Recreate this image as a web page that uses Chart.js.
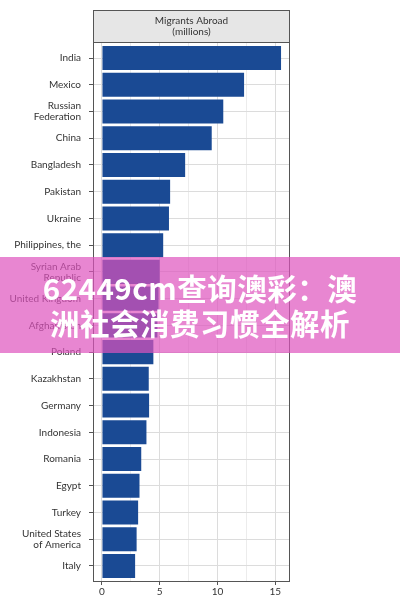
<!DOCTYPE html>
<html>
<head>
<meta charset="utf-8">
<script src="https://cdn.jsdelivr.net/npm/chart.js@4"></script>
<style>
  body { margin: 0; background: #fff; }
  #wrap { position: relative; width: 400px; height: 611px; }
  #banner {
    position: absolute; left: 0; top: 257px; width: 400px; height: 96px;
    background: rgba(222, 82, 190, 0.7);
    color: #fff; text-align: center;
    font-family: "Noto Sans CJK SC", sans-serif; font-weight: 700;
    font-size: 29.5px; line-height: 35px; padding-top: 13px; box-sizing: border-box;
    letter-spacing: 0.5px;
  }
</style>
</head>
<body>
<div id="wrap">
  <canvas id="chart" width="400" height="611"></canvas>
  <div id="banner">62449cm查询澳彩：澳<br>洲社会消费习惯全解析</div>
</div>
<script>
// Countries, top to bottom
const countries = [
  'India', 'Mexico', ['Russian', 'Federation'], 'China', 'Bangladesh',
  'Pakistan', 'Ukraine', 'Philippines, the', ['Syrian Arab', 'Republic'],
  'United Kingdom', 'Afghanistan', 'Poland', 'Kazakhstan', 'Germany',
  'Indonesia', 'Romania', 'Egypt', 'Turkey', ['United States', 'of America'], 'Italy'
];

// Migrants abroad, millions
const migrants = [15.5, 12.3, 10.5, 9.5, 7.2, 5.9, 5.8, 5.3, 5.0, 4.9,
                  4.8, 4.45, 4.05, 4.08, 3.85, 3.4, 3.25, 3.13, 3.0, 2.87];

const xTicks = [0, 2.5, 5, 7.5, 10, 12.5, 15];
const xLabelTicks = [0, 5, 10, 15];

const STRIP = 32;

// grey strip above the panel and the panel frame
const facetFrame = {
  id: 'facetFrame',
  beforeDraw(chart) {
    const { ctx, chartArea: a } = chart;
    ctx.save();
    ctx.fillStyle = '#e6e6e6';
    ctx.fillRect(a.left, a.top - STRIP, a.right - a.left, STRIP);
    ctx.restore();
  },
  afterDatasetsDraw(chart) {
    const { ctx, chartArea: a } = chart;
    ctx.save();
    ctx.strokeStyle = '#555';
    ctx.lineWidth = 1;
    ctx.strokeRect(a.left + 0.5, a.top - STRIP + 0.5, a.right - a.left - 1, a.bottom - a.top + STRIP - 1);
    ctx.beginPath();
    ctx.moveTo(a.left, a.top + 0.5);
    ctx.lineTo(a.right, a.top + 0.5);
    ctx.stroke();
    ctx.restore();
  }
};

const ctx = document.getElementById('chart').getContext('2d');
new Chart(ctx, {
  type: 'bar',
  data: {
    datasets: [{
      data: migrants.map((v, i) => ({ x: v, y: i })),
      backgroundColor: '#1a4a94',
      borderWidth: 0,
      barPercentage: 0.9,
      categoryPercentage: 1.0
    }]
  },
  options: {
    indexAxis: 'y',
    responsive: false,
    animation: false,
    devicePixelRatio: 1,
    layout: { padding: { top: 10, right: 110, bottom: 9, left: 0 } },
    plugins: {
      legend: { display: false },
      tooltip: { enabled: false },
      title: {
        display: true,
        fullSize: false,
        text: ['Migrants Abroad', '(millions)'],
        color: '#333',
        font: { family: 'Lato', size: 10, weight: 'normal', lineHeight: 1.1 },
        padding: { top: 5, bottom: 5 }
      }
    },
    scales: {
      x: {
        type: 'linear',
        min: -0.775,
        max: 16.275,
        afterBuildTicks(scale) {
          scale.ticks = xTicks.map(v => ({ value: v }));
        },
        afterFit(scale) { scale.height = 20; },
        ticks: {
          color: '#333',
          font: { family: 'Lato', size: 10 },
          padding: 1,
          maxRotation: 0,
          callback: v => xLabelTicks.includes(v) ? String(v) : ''
        },
        grid: {
          color: ctx => xLabelTicks.includes(ctx.tick && ctx.tick.value) ? '#dcdcdc' : '#ececec',
          tickColor: ctx => xLabelTicks.includes(ctx.tick && ctx.tick.value) ? '#555' : 'rgba(0,0,0,0)',
          tickLength: 3
        },
        border: { display: false }
      },
      y: {
        type: 'linear',
        reverse: true,
        offset: false,
        min: -0.6,
        max: 19.6,
        afterBuildTicks(scale) {
          scale.ticks = countries.map((c, i) => ({ value: i }));
        },
        afterFit(scale) { scale.width = 93; },
        ticks: {
          color: '#333',
          font: { family: 'Lato', size: 10, lineHeight: 1.1 },
          padding: 8,
          autoSkip: false,
          callback: v => countries[v]
        },
        grid: {
          offset: false,
          color: '#dcdcdc',
          tickColor: '#555',
          tickLength: 4
        },
        border: { display: false }
      }
    }
  },
  plugins: [facetFrame]
});
</script>
</body>
</html>
